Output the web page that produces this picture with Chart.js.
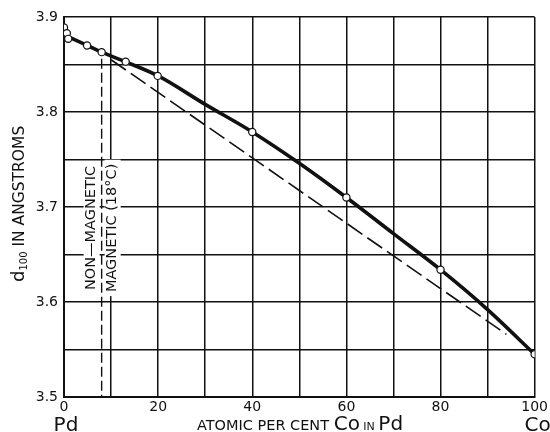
<!DOCTYPE html>
<html>
<head>
<meta charset="utf-8">
<script src="https://cdn.jsdelivr.net/npm/chart.js@4.4.1/dist/chart.umd.min.js"></script>
<style>
  html, body { margin: 0; padding: 0; background: #fff; }
  #wrap { width: 550px; height: 432px; }
</style>
</head>
<body>
<div id="wrap"><canvas id="chartCanvas" width="550" height="432"></canvas></div>
<script>
// Lattice parameter d100 of Pd-Co alloys

// measured points (open circles)
const pointX = [0, 0.6, 0.9, 4.9, 8.0, 13.1, 19.9, 40, 60, 80, 100];
const pointY = [3.889, 3.883, 3.877, 3.870, 3.863, 3.853, 3.838, 3.779, 3.710, 3.634, 3.545];

// smooth drawn curve (thick line)
const curveX = [0.5, 5, 8, 13, 20, 30, 40, 50, 60, 70, 80, 90, 100];
const curveY = [3.880, 3.870, 3.863, 3.853, 3.838, 3.808, 3.779, 3.746, 3.710, 3.672, 3.634, 3.592, 3.545];

// straight dashed line
const vegardX = [10, 94];
const vegardY = [3.855, 3.566];

// magnetic boundary (vertical dashed line)
const boundaryX = [8, 8];
const boundaryY = [3.856, 3.5];

const xTickLabels = [0, 20, 40, 60, 80, 100];
const yTickLabels = [3.5, 3.6, 3.7, 3.8, 3.9];

const toXY = (xs, ys) => xs.map((x, i) => ({ x: x, y: ys[i] }));
const ink = '#111';
const tickFont = { family: 'DejaVu Sans', size: 14 };

// draws a row of [text, font] pieces starting at x, returns end x
function drawParts(ctx, parts, x, y) {
    parts.forEach(([t, f, dy]) => {
        ctx.font = f;
        ctx.fillText(t, x, y + (dy || 0));
        x += ctx.measureText(t).width;
    });
    return x;
}

function partsWidth(ctx, parts) {
    let w = 0;
    parts.forEach(([t, f]) => { ctx.font = f; w += ctx.measureText(t).width; });
    return w;
}

// Text that is not part of the axes
const labelsPlugin = {
    id: 'labelsPlugin',
    beforeDatasetsDraw(chart) {
        const ctx = chart.ctx;
        const xs = chart.scales.x, ys = chart.scales.y;
        const xb = xs.getPixelForValue(8);
        const cy = ys.getPixelForValue(3.678);
        ctx.save();
        ctx.font = '14.5px "DejaVu Sans"';
        ctx.textAlign = 'center';
        ctx.textBaseline = 'middle';
        [['NON—MAGNETIC', xb - 10], ['MAGNETIC (18°C)', xb + 11]].forEach(([t, cx]) => {
            const w = ctx.measureText(t).width;
            ctx.fillStyle = '#fff';
            ctx.fillRect(cx - 8, cy - w / 2 - 4, 16, w + 8);
            ctx.save();
            ctx.translate(cx, cy);
            ctx.rotate(-Math.PI / 2);
            ctx.fillStyle = ink;
            ctx.fillText(t, 0, 0);
            ctx.restore();
        });
        ctx.restore();
    },
    afterDraw(chart) {
        const ctx = chart.ctx;
        const xs = chart.scales.x;
        ctx.save();
        ctx.fillStyle = ink;
        ctx.textBaseline = 'alphabetic';
        ctx.textAlign = 'center';
        ctx.font = '20px "DejaVu Sans"';
        ctx.fillText('Pd', xs.getPixelForValue(0) + 2, 431);
        ctx.fillText('Co', xs.getPixelForValue(100) + 3, 431);

        // x axis title with mixed sizes
        ctx.textAlign = 'left';
        const xParts = [
            ['ATOMIC PER CENT ', '14.5px "DejaVu Sans"'],
            ['Co', '20px "DejaVu Sans"'],
            [' IN ', '11px "DejaVu Sans"'],
            ['Pd', '20px "DejaVu Sans"']
        ];
        drawParts(ctx, xParts, 300 - partsWidth(ctx, xParts) / 2, 430);

        // y axis title, d with subscript 100
        const yParts = [
            ['d', '18px "DejaVu Sans"'],
            ['100', '10px "DejaVu Sans"', 3],
            [' IN ANGSTROMS', '15.5px "DejaVu Sans"']
        ];
        ctx.translate(24, 282);
        ctx.rotate(-Math.PI / 2);
        drawParts(ctx, yParts, 0, 0);
        ctx.restore();
    }
};

const chart = new Chart(document.getElementById('chartCanvas'), {
    type: 'scatter',
    data: {
        datasets: [
            {
                label: 'curve',
                data: toXY(curveX, curveY),
                showLine: true,
                borderColor: ink,
                borderWidth: 3.6,
                pointRadius: 0,
                cubicInterpolationMode: 'monotone',
                order: 2
            },
            {
                label: 'straight',
                data: toXY(vegardX, vegardY),
                showLine: true,
                borderColor: ink,
                borderWidth: 1.6,
                borderDash: [18, 6],
                pointRadius: 0,
                order: 3
            },
            {
                label: 'boundary',
                data: toXY(boundaryX, boundaryY),
                showLine: true,
                borderColor: ink,
                borderWidth: 1.4,
                borderDash: [10, 4],
                pointRadius: 0,
                order: 4
            },
            {
                label: 'measured',
                data: toXY(pointX, pointY),
                showLine: false,
                pointRadius: 3.6,
                pointBackgroundColor: '#fff',
                pointBorderColor: ink,
                pointBorderWidth: 1.2,
                order: 1
            }
        ]
    },
    options: {
        responsive: false,
        animation: false,
        layout: { padding: { top: 17, right: 14, left: 0, bottom: 0 } },
        plugins: {
            legend: { display: false },
            tooltip: { enabled: false }
        },
        scales: {
            x: {
                type: 'linear',
                min: 0,
                max: 100,
                afterFit: (s) => { s.height = 35; },
                grid: { color: ink, lineWidth: 1.5, drawTicks: false },
                border: { color: ink, width: 2 },
                ticks: {
                    stepSize: 10,
                    padding: 2,
                    color: ink,
                    font: tickFont,
                    maxRotation: 0,
                    autoSkip: false,
                    callback: (v) => xTickLabels.includes(v) ? String(v) : ''
                }
            },
            y: {
                type: 'linear',
                min: 3.5,
                max: 3.9,
                afterFit: (s) => { s.width = 64; },
                grid: { color: ink, lineWidth: 1.5, drawTicks: false },
                border: { color: ink, width: 2 },
                ticks: {
                    stepSize: 0.05,
                    padding: 6,
                    color: ink,
                    font: tickFont,
                    autoSkip: false,
                    callback: (v) => {
                        const r = Math.round(v * 100) / 100;
                        return yTickLabels.some(t => Math.abs(t - r) < 1e-6) ? r.toFixed(1) : '';
                    }
                }
            }
        }
    },
    plugins: [labelsPlugin]
});
</script>
</body>
</html>
